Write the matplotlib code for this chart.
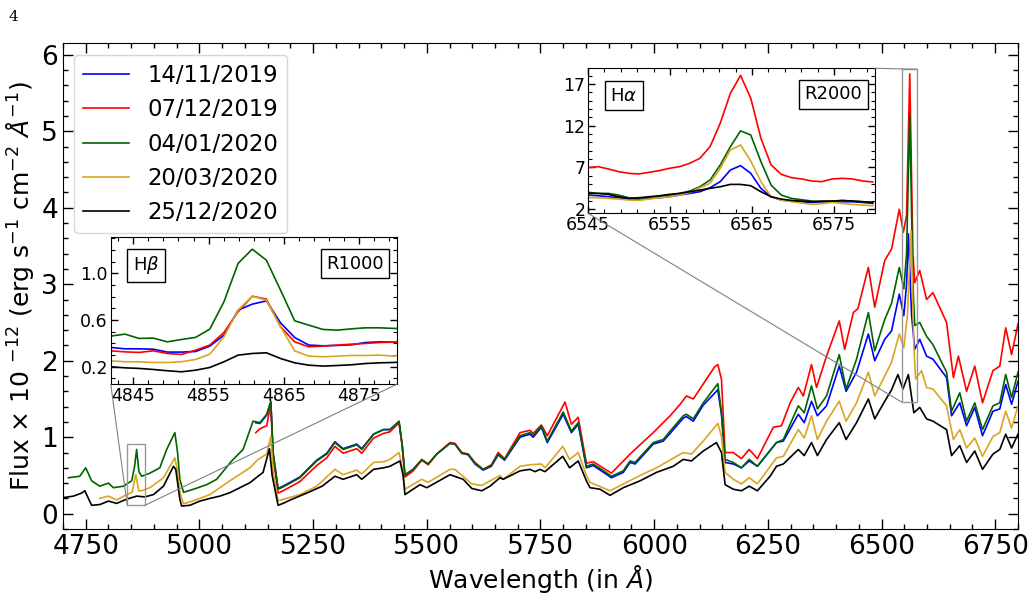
import matplotlib
matplotlib.use("Agg")
import matplotlib.pyplot as plt
from matplotlib.ticker import MultipleLocator
from matplotlib.patches import Rectangle, ConnectionPatch

# ---------------- data ----------------
dates = ["14/11/2019", "07/12/2019", "04/01/2020", "20/03/2020", "25/12/2020"]
colors = ["#0000ff", "#ff0000", "#006400", "#daa520", "#000000"]

wave_blue = [5124, 5133, 5148, 5157, 5162, 5173, 5184, 5221, 5258, 5280, 5298, 5316, 5346, 5357, 5383, 5405,
             5419, 5439, 5446, 5452, 5470, 5489, 5503, 5522, 5551, 5562, 5577, 5591, 5606, 5624, 5642, 5657,
             5671, 5705, 5727, 5734, 5752, 5765, 5800, 5818, 5833, 5851, 5866, 5884, 5906, 5932, 5947, 5958,
             5998, 6020, 6035, 6064, 6071, 6086, 6108, 6140, 6148, 6156, 6174, 6192, 6209, 6227, 6269, 6284,
             6317, 6330, 6346, 6359, 6379, 6407, 6422, 6445, 6471, 6485, 6507, 6522, 6539, 6549, 6555, 6559,
             6566, 6573, 6584, 6599, 6613, 6643, 6654, 6672, 6687, 6705, 6722, 6745, 6760, 6773, 6786, 6800]
flux_blue = [1.19, 1.18, 1.29, 1.46, 0.80, 0.33, 0.36, 0.48, 0.70, 0.79, 0.94, 0.85, 0.91, 0.85, 1.04, 1.10,
             1.10, 1.20, 0.89, 0.50, 0.58, 0.70, 0.65, 0.78, 0.92, 0.91, 0.79, 0.77, 0.65, 0.57, 0.62, 0.77,
             0.70, 1.00, 1.04, 1.00, 1.13, 0.93, 1.30, 1.06, 1.17, 0.60, 0.63, 0.56, 0.47, 0.54, 0.67, 0.65,
             0.91, 0.95, 1.05, 1.25, 1.27, 1.21, 1.42, 1.62, 1.30, 0.67, 0.65, 0.60, 0.69, 0.62, 0.93, 0.95,
             1.30, 1.19, 1.47, 1.28, 1.41, 1.93, 1.60, 1.85, 2.35, 2.00, 2.28, 2.39, 2.87, 2.59, 3.00, 3.66,
             2.60, 2.15, 2.28, 2.06, 2.02, 1.78, 1.28, 1.45, 1.15, 1.39, 1.02, 1.34, 1.37, 1.69, 1.43, 1.73]

wave_red = [5124, 5133, 5148, 5157, 5162, 5173, 5184, 5221, 5258, 5280, 5298, 5316, 5346, 5357, 5383, 5405,
            5419, 5439, 5446, 5452, 5470, 5489, 5503, 5522, 5551, 5562, 5577, 5591, 5606, 5624, 5642, 5657,
            5671, 5705, 5727, 5734, 5752, 5765, 5804, 5818, 5833, 5851, 5866, 5906, 5947, 5998, 6035, 6057,
            6071, 6086, 6115, 6133, 6140, 6148, 6156, 6174, 6192, 6209, 6227, 6262, 6280, 6299, 6317, 6328,
            6346, 6357, 6379, 6407, 6419, 6438, 6448, 6471, 6485, 6507, 6522, 6539, 6548, 6555, 6562, 6569,
            6573, 6584, 6599, 6613, 6643, 6658, 6669, 6687, 6705, 6722, 6745, 6760, 6773, 6786, 6800]
flux_red = [1.06, 1.11, 1.15, 1.44, 0.75, 0.27, 0.30, 0.42, 0.63, 0.73, 0.88, 0.79, 0.85, 0.79, 0.99, 1.05,
            1.07, 1.19, 0.88, 0.48, 0.56, 0.70, 0.64, 0.78, 0.93, 0.92, 0.80, 0.78, 0.67, 0.58, 0.64, 0.80,
            0.72, 1.06, 1.09, 1.05, 1.16, 1.02, 1.46, 1.17, 1.26, 0.66, 0.68, 0.53, 0.78, 1.06, 1.28, 1.43,
            1.54, 1.50, 1.76, 1.92, 1.95, 1.76, 0.80, 0.80, 0.72, 0.84, 0.72, 1.13, 1.15, 1.45, 1.65, 1.54,
            1.95, 1.65, 2.06, 2.52, 2.15, 2.63, 2.68, 3.22, 2.70, 3.31, 3.46, 3.98, 3.68, 3.90, 5.75, 3.40,
            3.02, 3.18, 2.80, 2.89, 2.50, 1.78, 2.06, 1.60, 1.93, 1.45, 1.87, 1.93, 2.43, 2.08, 2.48]

wave_green = [4712, 4737, 4750, 4763, 4781, 4800, 4811, 4833, 4851, 4857, 4862, 4867, 4873, 4891, 4913, 4928,
              4946, 4952, 4957, 4965, 4987, 5016, 5038, 5071, 5096, 5118, 5133, 5148, 5157, 5162, 5173, 5184,
              5221, 5258, 5280, 5298, 5316, 5346, 5357, 5383, 5405, 5419, 5439, 5446, 5452, 5470, 5489, 5503,
              5522, 5551, 5562, 5577, 5591, 5606, 5624, 5642, 5657, 5671, 5705, 5727, 5734, 5752, 5765, 5800,
              5818, 5833, 5851, 5866, 5884, 5906, 5932, 5947, 5958, 5998, 6020, 6035, 6064, 6071, 6086, 6108,
              6140, 6148, 6156, 6174, 6192, 6209, 6227, 6269, 6284, 6317, 6330, 6346, 6359, 6379, 6407, 6422,
              6445, 6471, 6485, 6507, 6522, 6539, 6549, 6555, 6562, 6569, 6573, 6584, 6599, 6613, 6643, 6654,
              6672, 6687, 6705, 6722, 6745, 6760, 6773, 6786, 6800]
flux_green = [0.47, 0.49, 0.60, 0.43, 0.36, 0.40, 0.34, 0.36, 0.43, 0.60, 0.84, 0.55, 0.49, 0.53, 0.60, 0.84,
              1.06, 0.80, 0.45, 0.28, 0.32, 0.38, 0.45, 0.69, 0.84, 1.21, 1.19, 1.30, 1.47, 0.80, 0.32, 0.35,
              0.47, 0.69, 0.78, 0.93, 0.84, 0.90, 0.84, 1.04, 1.10, 1.10, 1.21, 0.90, 0.51, 0.58, 0.71, 0.65,
              0.78, 0.92, 0.91, 0.79, 0.78, 0.66, 0.58, 0.63, 0.78, 0.71, 1.02, 1.06, 1.02, 1.15, 0.95, 1.33,
              1.08, 1.19, 0.62, 0.65, 0.58, 0.49, 0.56, 0.69, 0.67, 0.93, 0.97, 1.08, 1.28, 1.30, 1.24, 1.45,
              1.70, 1.32, 0.71, 0.67, 0.60, 0.71, 0.62, 0.93, 0.97, 1.41, 1.32, 1.67, 1.37, 1.54, 2.08, 1.63,
              2.02, 2.63, 2.13, 2.54, 2.75, 3.22, 2.94, 3.40, 5.23, 3.00, 2.46, 2.50, 2.32, 2.21, 1.85, 1.34,
              1.58, 1.21, 1.45, 1.10, 1.41, 1.45, 1.82, 1.52, 1.85]

wave_orange = [4781, 4800, 4818, 4840, 4852, 4860, 4867, 4873, 4891, 4921, 4946, 4952, 4957, 4965, 4987, 5023,
               5067, 5111, 5129, 5148, 5157, 5162, 5173, 5221, 5258, 5298, 5316, 5346, 5357, 5383, 5405, 5419,
               5439, 5446, 5452, 5489, 5503, 5551, 5562, 5599, 5621, 5661, 5668, 5705, 5727, 5752, 5760, 5799,
               5814, 5833, 5851, 5859, 5903, 5969, 6005, 6064, 6082, 6108, 6140, 6148, 6156, 6174, 6192, 6209,
               6227, 6269, 6284, 6317, 6330, 6346, 6359, 6379, 6407, 6422, 6445, 6471, 6485, 6507, 6522, 6539,
               6549, 6557, 6565, 6571, 6575, 6588, 6599, 6613, 6643, 6658, 6672, 6687, 6705, 6722, 6745, 6760,
               6773, 6786, 6800]
flux_orange = [0.20, 0.23, 0.18, 0.25, 0.28, 0.51, 0.30, 0.30, 0.34, 0.47, 0.73, 0.55, 0.28, 0.13, 0.17, 0.25,
               0.43, 0.60, 0.71, 0.78, 1.01, 0.55, 0.17, 0.25, 0.36, 0.58, 0.51, 0.57, 0.52, 0.67, 0.68, 0.71,
               0.80, 0.60, 0.32, 0.45, 0.41, 0.58, 0.58, 0.39, 0.37, 0.50, 0.45, 0.62, 0.64, 0.65, 0.60, 0.88,
               0.71, 0.80, 0.50, 0.41, 0.30, 0.50, 0.60, 0.80, 0.78, 0.95, 1.18, 1.01, 0.54, 0.45, 0.39, 0.47,
               0.39, 0.73, 0.75, 1.10, 0.99, 1.28, 0.97, 1.21, 1.47, 1.21, 1.45, 1.85, 1.54, 1.80, 1.98, 2.35,
               2.17, 2.60, 3.70, 2.20, 1.76, 1.87, 1.65, 1.63, 1.41, 0.97, 1.10, 0.86, 0.99, 0.75, 1.01, 1.06,
               1.34, 1.12, 1.41]

wave_black = [4700, 4723, 4741, 4748, 4763, 4781, 4800, 4818, 4840, 4862, 4880, 4899, 4921, 4943, 4948, 4957,
              4961, 4979, 5001, 5023, 5045, 5067, 5089, 5111, 5129, 5140, 5154, 5160, 5173, 5184, 5200, 5240,
              5270, 5298, 5316, 5346, 5357, 5383, 5405, 5419, 5441, 5448, 5452, 5485, 5500, 5551, 5580, 5599,
              5621, 5639, 5661, 5668, 5705, 5727, 5738, 5749, 5760, 5799, 5814, 5833, 5851, 5859, 5881, 5903,
              5932, 5969, 6005, 6042, 6064, 6082, 6108, 6137, 6148, 6156, 6174, 6192, 6209, 6227, 6255, 6269,
              6284, 6317, 6330, 6346, 6359, 6379, 6407, 6422, 6445, 6471, 6485, 6507, 6522, 6536, 6547, 6559,
              6571, 6584, 6599, 6613, 6643, 6654, 6672, 6687, 6705, 6722, 6745, 6760, 6773, 6786, 6800]
flux_black = [0.21, 0.23, 0.27, 0.30, 0.11, 0.12, 0.165, 0.135, 0.19, 0.23, 0.22, 0.25, 0.36, 0.62, 0.58, 0.19,
              0.10, 0.11, 0.165, 0.20, 0.23, 0.275, 0.34, 0.405, 0.49, 0.54, 0.85, 0.50, 0.11, 0.135, 0.18, 0.28,
              0.36, 0.49, 0.45, 0.51, 0.45, 0.58, 0.60, 0.62, 0.69, 0.50, 0.25, 0.38, 0.34, 0.51, 0.45, 0.33,
              0.30, 0.36, 0.47, 0.45, 0.56, 0.58, 0.55, 0.58, 0.55, 0.75, 0.60, 0.69, 0.43, 0.34, 0.32, 0.24,
              0.34, 0.43, 0.54, 0.62, 0.71, 0.69, 0.82, 0.93, 0.80, 0.38, 0.32, 0.30, 0.36, 0.30, 0.49, 0.62,
              0.65, 0.84, 0.76, 0.93, 0.76, 0.97, 1.19, 0.97, 1.19, 1.50, 1.24, 1.47, 1.62, 1.82, 1.63, 1.82,
              1.32, 1.39, 1.24, 1.21, 1.10, 0.76, 0.89, 0.67, 0.82, 0.58, 0.78, 0.84, 1.04, 0.86, 1.04]

# H-beta inset (R1000)
hb_wave = [4842.0, 4843.88, 4845.76, 4847.64, 4849.52, 4851.4, 4853.28, 4855.16, 4857.04, 4858.92, 4860.8,
           4862.68, 4864.56, 4866.44, 4868.32, 4870.2, 4872.08, 4873.96, 4875.84, 4877.72, 4879.6, 4881.48]
hb_blue = [0.366, 0.354, 0.354, 0.351, 0.326, 0.326, 0.331, 0.377, 0.471, 0.686, 0.737, 0.765, 0.577, 0.451,
           0.386, 0.380, 0.383, 0.388, 0.408, 0.414, 0.411, 0.406]
hb_red = [0.337, 0.328, 0.323, 0.337, 0.314, 0.306, 0.343, 0.386, 0.494, 0.671, 0.805, 0.780, 0.543, 0.414,
          0.371, 0.377, 0.386, 0.394, 0.400, 0.408, 0.411, 0.414]
hb_green = [0.463, 0.480, 0.443, 0.446, 0.414, 0.434, 0.452, 0.523, 0.757, 1.086, 1.208, 1.114, 0.857, 0.594,
            0.557, 0.520, 0.514, 0.525, 0.534, 0.534, 0.529, 0.525]
hb_orange = [0.251, 0.243, 0.243, 0.237, 0.237, 0.243, 0.263, 0.308, 0.457, 0.686, 0.805, 0.771, 0.543, 0.337,
             0.291, 0.286, 0.291, 0.297, 0.297, 0.300, 0.291, 0.314]
hb_black = [0.200, 0.191, 0.186, 0.177, 0.166, 0.157, 0.171, 0.194, 0.243, 0.300, 0.314, 0.320, 0.271, 0.234,
            0.214, 0.206, 0.211, 0.217, 0.228, 0.234, 0.237, 0.243]

# H-alpha inset (R2000)
ha_wave = [6545.0, 6546.24, 6547.48, 6548.72, 6549.96, 6551.2, 6552.44, 6553.68, 6554.92, 6556.16, 6557.4,
           6558.64, 6559.88, 6561.12, 6562.36, 6563.6, 6564.84, 6566.08, 6567.32, 6568.56, 6569.8, 6571.04,
           6572.28, 6573.52, 6574.76, 6576.0, 6577.24, 6578.48, 6579.72]
ha_blue = [3.69, 3.61, 3.49, 3.37, 3.21, 3.21, 3.29, 3.37, 3.49, 3.69, 3.89, 4.09, 4.57, 5.30, 6.70, 7.22,
           6.30, 4.49, 3.49, 3.09, 2.97, 2.89, 2.81, 2.89, 2.89, 2.89, 2.89, 2.81, 2.69]
ha_red = [6.98, 7.10, 6.82, 6.50, 6.30, 6.22, 6.42, 6.62, 6.90, 7.10, 7.50, 8.10, 9.50, 12.31, 15.91, 18.04,
          15.31, 10.50, 7.30, 6.18, 5.78, 5.62, 5.38, 5.30, 5.62, 5.70, 5.62, 5.38, 5.26]
ha_green = [4.01, 3.89, 3.89, 3.69, 3.37, 3.29, 3.37, 3.53, 3.69, 3.89, 4.17, 4.69, 5.50, 7.30, 9.50, 11.39,
            10.90, 7.70, 4.89, 3.69, 3.29, 3.13, 2.97, 2.89, 2.97, 3.01, 2.97, 2.89, 2.81]
ha_orange = [3.37, 3.37, 3.29, 3.21, 3.09, 3.05, 3.21, 3.37, 3.49, 3.69, 4.01, 4.57, 5.10, 6.90, 9.10, 9.70,
             7.78, 5.30, 3.49, 3.09, 2.89, 2.73, 2.57, 2.65, 2.81, 2.69, 2.57, 2.49, 2.41]
ha_black = [3.89, 3.89, 3.77, 3.49, 3.29, 3.37, 3.49, 3.61, 3.77, 3.89, 4.09, 4.29, 4.49, 4.69, 4.97, 4.97,
            4.81, 4.09, 3.49, 3.21, 3.05, 2.97, 2.89, 2.97, 2.97, 3.05, 2.97, 2.89, 2.81]

main_waves = [wave_blue, wave_red, wave_green, wave_orange, wave_black]
main_fluxes = [flux_blue, flux_red, flux_green, flux_orange, flux_black]
hb_fluxes = [hb_blue, hb_red, hb_green, hb_orange, hb_black]
ha_fluxes = [ha_blue, ha_red, ha_green, ha_orange, ha_black]

# ---------------- figure ----------------
fig = plt.figure(figsize=(10.34, 6.13), dpi=100)
ax = fig.add_axes([0.0609, 0.137, 0.9236, 0.7924])

for w, f, c, lab in zip(main_waves, main_fluxes, colors, dates):
    ax.plot(w, f, color=c, lw=1.2, label=lab)

ax.set_xlim(4700, 6800)
ax.set_ylim(-0.2, 6.15)
ax.xaxis.set_major_locator(MultipleLocator(250))
ax.xaxis.set_minor_locator(MultipleLocator(50))
ax.yaxis.set_major_locator(MultipleLocator(1))
ax.yaxis.set_minor_locator(MultipleLocator(0.2))
ax.tick_params(which="both", direction="in", top=True, right=True, labelsize=19)
ax.tick_params(which="major", length=7, width=1)
ax.tick_params(which="minor", length=3.5, width=1)
ax.set_xlabel(r"Wavelength (in $\AA$)", fontsize=18, labelpad=2)
ax.set_ylabel(r"Flux $\times$ 10 $^{-12}$ (erg s$^{-1}$ cm$^{-2}$ $\AA^{-1}$)", fontsize=18, labelpad=4)
ax.legend(loc="upper left", fontsize=16.4)

fig.text(0.008, 0.972, "4", fontsize=11, family="DejaVu Serif", va="center")

# ---------------- insets ----------------
def make_inset(rect, wave, fluxes, xlim, ylim, xmaj, xoff, ymaj, yoff, ymin_step, label, res):
    axi = fig.add_axes(rect)
    for f, c in zip(fluxes, colors):
        axi.plot(wave, f, color=c, lw=1.2)
    axi.set_xlim(*xlim)
    axi.set_ylim(*ylim)
    axi.xaxis.set_major_locator(MultipleLocator(xmaj, offset=xoff))
    axi.xaxis.set_minor_locator(MultipleLocator(2, offset=1))
    axi.yaxis.set_major_locator(MultipleLocator(ymaj, offset=yoff))
    axi.yaxis.set_minor_locator(MultipleLocator(ymin_step))
    axi.tick_params(which="both", direction="in", top=True, right=True, labelsize=12.5, pad=2)
    axi.tick_params(which="major", length=5, width=1)
    axi.tick_params(which="minor", length=3, width=0.8)
    box = dict(boxstyle="square,pad=0.3", facecolor="white", edgecolor="black", lw=1)
    axi.text(0.077, 0.81, label, transform=axi.transAxes, fontsize=13, bbox=box, va="center", ha="left")
    axi.text(0.955, 0.82, res, transform=axi.transAxes, fontsize=13, bbox=box, va="center", ha="right")
    return axi

axb = make_inset([0.1071, 0.3731, 0.2766, 0.2398], hb_wave, hb_fluxes, (4842, 4880), (0.05, 1.31),
                 10, 5, 0.4, 0.2, 0.1, r"H$\beta$", "R1000")
axa = make_inset([0.5687, 0.6520, 0.2776, 0.2366], ha_wave, ha_fluxes, (6545, 6580), (1.5, 18.9),
                 10, 5, 5, 2, 1, r"H$\alpha$", "R2000")

# zoom rectangles and connectors
rb = (4841.4, 0.11, 4880.3, 0.907)
ra = (6544.0, 1.46, 6579.0, 5.81)
for r in (rb, ra):
    ax.add_patch(Rectangle((r[0], r[1]), r[2] - r[0], r[3] - r[1], fill=False,
                           edgecolor="0.6", lw=1.0, zorder=5))

conns = [((0, 0), axb, (rb[0], rb[1])), ((1, 0), axb, (rb[2], rb[1])),
         ((0, 0), axa, (ra[0], ra[1])), ((1, 1), axa, (ra[2], ra[3]))]
for xyA, axi, xyB in conns:
    cp = ConnectionPatch(xyA=xyA, coordsA=axi.transAxes, xyB=xyB, coordsB=ax.transData,
                         color="0.5", lw=0.8)
    fig.add_artist(cp)

fig.savefig("out.png", dpi=100)
